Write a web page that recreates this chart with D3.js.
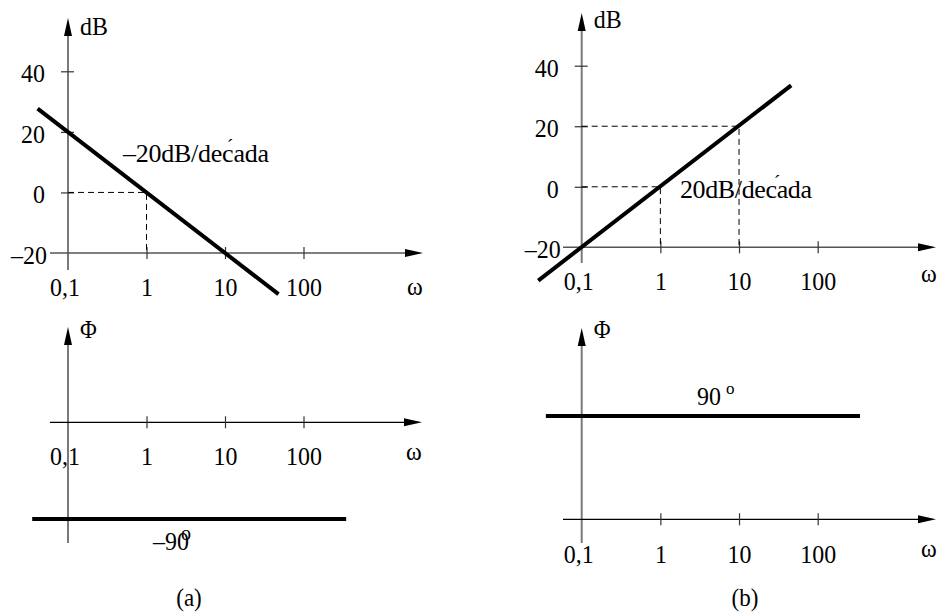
<!DOCTYPE html>
<html>
<head>
<meta charset="utf-8">
<script src="https://cdn.jsdelivr.net/npm/d3@7"></script>
<style>
  html, body { margin: 0; padding: 0; background: #fff; }
  svg { display: block; }
  svg text { font-family: "Liberation Serif", "Tinos", "Times New Roman", "DejaVu Serif", serif; }
</style>
</head>
<body>
<script>
// Bode asymptotes of an ideal integrator (a) and differentiator (b)

const omegaTicks = [0.1, 1, 10, 100];
const omegaTickLabels = ["0,1", "1", "10", "100"];
const dbTicks = [-20, 0, 20, 40];
const dbTickLabels = ["\u201320", "0", "20", "40"];

// magnitude asymptotes (omega, dB)
const magA = [{ w: 0.041, db: 27.7 }, { w: 48, db: -33.6 }];
const magB = [{ w: 0.028, db: -31 }, { w: 46, db: 33.5 }];

// phase lines (omega, degrees)
const phaseA = [{ w: 0.035, deg: -90 }, { w: 350, deg: -90 }];
const phaseB = [{ w: 0.035, deg: 90 }, { w: 345, deg: 90 }];

// dashed reading guides (omega, dB)
const guidesA = [{ w: 1, db: 0 }];
const guidesB = [{ w: 1, db: 0 }, { w: 10, db: 20 }];

const slopeLabels = ["\u201320dB/decada", "20dB/decada"];
const phaseLabels = ["\u201390", "90"];
const captions = ["(a)", "(b)"];

const W = 937, H = 614;
const SQUEEZE = 0.92;   // slightly condensed lettering

const svg = d3.select("body").append("svg")
  .attr("width", W).attr("height", H);

// condense a text selection horizontally, keeping its anchor
function squeeze(sel) {
  sel.each(function () {
    const len = this.getComputedTextLength();
    d3.select(this)
      .attr("textLength", len * SQUEEZE)
      .attr("lengthAdjust", "spacingAndGlyphs");
  });
  return sel;
}

function arrowUp(g, x, tip) {
  g.append("path")
    .attr("d", `M${x},${tip} L${x - 4},${tip + 18} L${x + 4},${tip + 18} Z`)
    .attr("fill", "#000");
}
function arrowRight(g, tip, y) {
  g.append("path")
    .attr("d", `M${tip},${y} L${tip - 18},${y - 4} L${tip - 18},${y + 4} Z`)
    .attr("fill", "#000");
}

// shared frame: horizontal omega axis, vertical value axis, arrowheads
function frame(x, yBase, o) {
  const g = svg.append("g");
  const ax = x(0.1);
  // vertical axis
  g.append("line")
    .attr("x1", ax).attr("x2", ax)
    .attr("y1", o.vBottom).attr("y2", o.vTop + 16)
    .attr("stroke", "#7a7a7a").attr("stroke-width", 2);
  arrowUp(g, ax, o.vTop);
  // horizontal axis
  g.append("line")
    .attr("x1", o.hLeft).attr("x2", o.hRight - 16)
    .attr("y1", yBase).attr("y2", yBase)
    .attr("stroke", o.hColor).attr("stroke-width", o.hWidth);
  arrowRight(g, o.hRight, yBase);

  // omega ticks and labels
  const xAxis = d3.axisBottom(x)
    .tickValues(omegaTicks)
    .tickFormat((d, i) => omegaTickLabels[i])
    .tickSize(6);
  const gx = g.append("g").attr("transform", `translate(0,${yBase})`).call(xAxis);
  gx.attr("font-family", null);
  gx.select(".domain").remove();
  gx.selectAll(".tick line")
    .attr("y1", -6).attr("y2", 6)
    .attr("stroke", "#333").attr("stroke-width", 1.2)
    .filter(d => d === 0.1).remove();
  gx.selectAll(".tick text")
    .attr("y", o.labelOffset).attr("dy", 0)
    .attr("x", d => d === 0.1 ? -3.5 : 0)
    .attr("font-size", 26).attr("fill", "#000")
    .call(squeeze);

  // omega symbol
  g.append("text")
    .attr("x", o.omegaX).attr("y", o.omegaY)
    .attr("font-size", 26).text("\u03c9").call(squeeze);
  // vertical axis name
  g.append("text")
    .attr("x", ax + 12).attr("y", o.nameY)
    .attr("font-size", o.nameSize).text(o.name).call(squeeze);
  return g;
}

function magnitudePanel(o, data, guides, slopeText) {
  const x = d3.scaleLog().domain([0.1, 100]).range(o.xRange);
  const y = d3.scaleLinear().domain([-20, 40]).range(o.yRange);
  const g = frame(x, y(-20), o);

  // dB ticks and labels
  const yAxis = d3.axisLeft(y)
    .tickValues(dbTicks)
    .tickFormat((d, i) => dbTickLabels[i])
    .tickSize(7);
  const gy = g.append("g").attr("transform", `translate(${x(0.1)},0)`).call(yAxis);
  gy.attr("font-family", null);
  gy.select(".domain").remove();
  gy.selectAll(".tick line")
    .attr("x1", 6).attr("x2", -7)
    .attr("stroke", "#333").attr("stroke-width", 1.2)
    .filter(d => d === -20).remove();
  gy.selectAll(".tick text")
    .attr("x", d => d === -20 ? -21 : -23).attr("dy", "0.4em")
    .attr("font-size", 26).attr("fill", "#000")
    .call(squeeze);

  // dashed guides to the reading points
  guides.forEach(p => {
    g.append("path")
      .attr("d", `M${x(0.1)},${y(p.db)} H${x(p.w)} V${y(-20)}`)
      .attr("fill", "none").attr("stroke", "#000")
      .attr("stroke-width", 1).attr("stroke-dasharray", "6,4");
  });

  // asymptote
  g.append("path")
    .datum(data)
    .attr("d", d3.line().x(d => x(d.w)).y(d => y(d.db)))
    .attr("fill", "none").attr("stroke", "#000").attr("stroke-width", 4);

  // slope annotation
  g.append("text")
    .attr("x", o.slopeX).attr("y", o.slopeY)
    .attr("font-size", 26)
    .attr("textLength", o.slopeW).attr("lengthAdjust", "spacing")
    .text(slopeText);
  g.append("text")
    .attr("x", o.slopeX + o.slopeW * 0.71).attr("y", o.slopeY - 8)
    .attr("font-size", 20).text("\u00b4");
}

function phasePanel(o, data, domain, labelText) {
  const x = d3.scaleLog().domain([0.1, 100]).range(o.xRange);
  const y = d3.scaleLinear().domain(domain).range(o.yRange);
  const g = frame(x, y(0), o);

  g.append("path")
    .datum(data)
    .attr("d", d3.line().x(d => x(d.w)).y(d => y(d.deg)))
    .attr("fill", "none").attr("stroke", "#000").attr("stroke-width", 4);

  g.append("text")
    .attr("x", o.degX).attr("y", o.degY)
    .attr("font-size", 26).text(labelText).call(squeeze);
  g.append("text")
    .attr("x", o.supX).attr("y", o.supY)
    .attr("font-size", o.supSize).text("o");
}

magnitudePanel({
  xRange: [68, 303.5], yRange: [253, 71.3],
  vTop: 18, vBottom: 270, hLeft: 50, hRight: 423,
  hColor: "#555", hWidth: 1.4, labelOffset: 43,
  omegaX: 407, omegaY: 295, name: "dB", nameY: 35, nameSize: 26,
  slopeX: 123, slopeY: 162, slopeW: 146
}, magA, guidesA, slopeLabels[0]);

magnitudePanel({
  xRange: [581.7, 817.7], yRange: [247.3, 65.7],
  vTop: 13, vBottom: 263, hLeft: 563, hRight: 936,
  hColor: "#555", hWidth: 1.4, labelOffset: 43,
  omegaX: 921, omegaY: 282, name: "dB", nameY: 28, nameSize: 26,
  slopeX: 680, slopeY: 198, slopeW: 132
}, magB, guidesB, slopeLabels[1]);

phasePanel({
  xRange: [68, 303.5], yRange: [519, 422.3],
  vTop: 327, vBottom: 543, hLeft: 50, hRight: 422,
  hColor: "#000", hWidth: 1.2, labelOffset: 43,
  omegaX: 406, omegaY: 460, name: "\u03a6", nameY: 338, nameSize: 25,
  degX: 153, degY: 550, supX: 181, supY: 540, supSize: 20
}, phaseA, [-90, 0], phaseLabels[0]);

phasePanel({
  xRange: [581.7, 817.7], yRange: [519.3, 416],
  vTop: 328, vBottom: 543, hLeft: 563, hRight: 936,
  hColor: "#000", hWidth: 1.2, labelOffset: 43.5,
  omegaX: 921, omegaY: 557, name: "\u03a6", nameY: 338, nameSize: 25,
  degX: 697, degY: 405, supX: 726, supY: 393.5, supSize: 17
}, phaseB, [0, 90], phaseLabels[1]);

// sub-figure captions
svg.selectAll("text.caption")
  .data(captions)
  .join("text")
  .attr("class", "caption")
  .attr("x", (d, i) => i === 0 ? 189 : 745)
  .attr("y", 606)
  .attr("text-anchor", "middle")
  .attr("font-size", 25)
  .text(d => d)
  .call(squeeze);
</script>
</body>
</html>
